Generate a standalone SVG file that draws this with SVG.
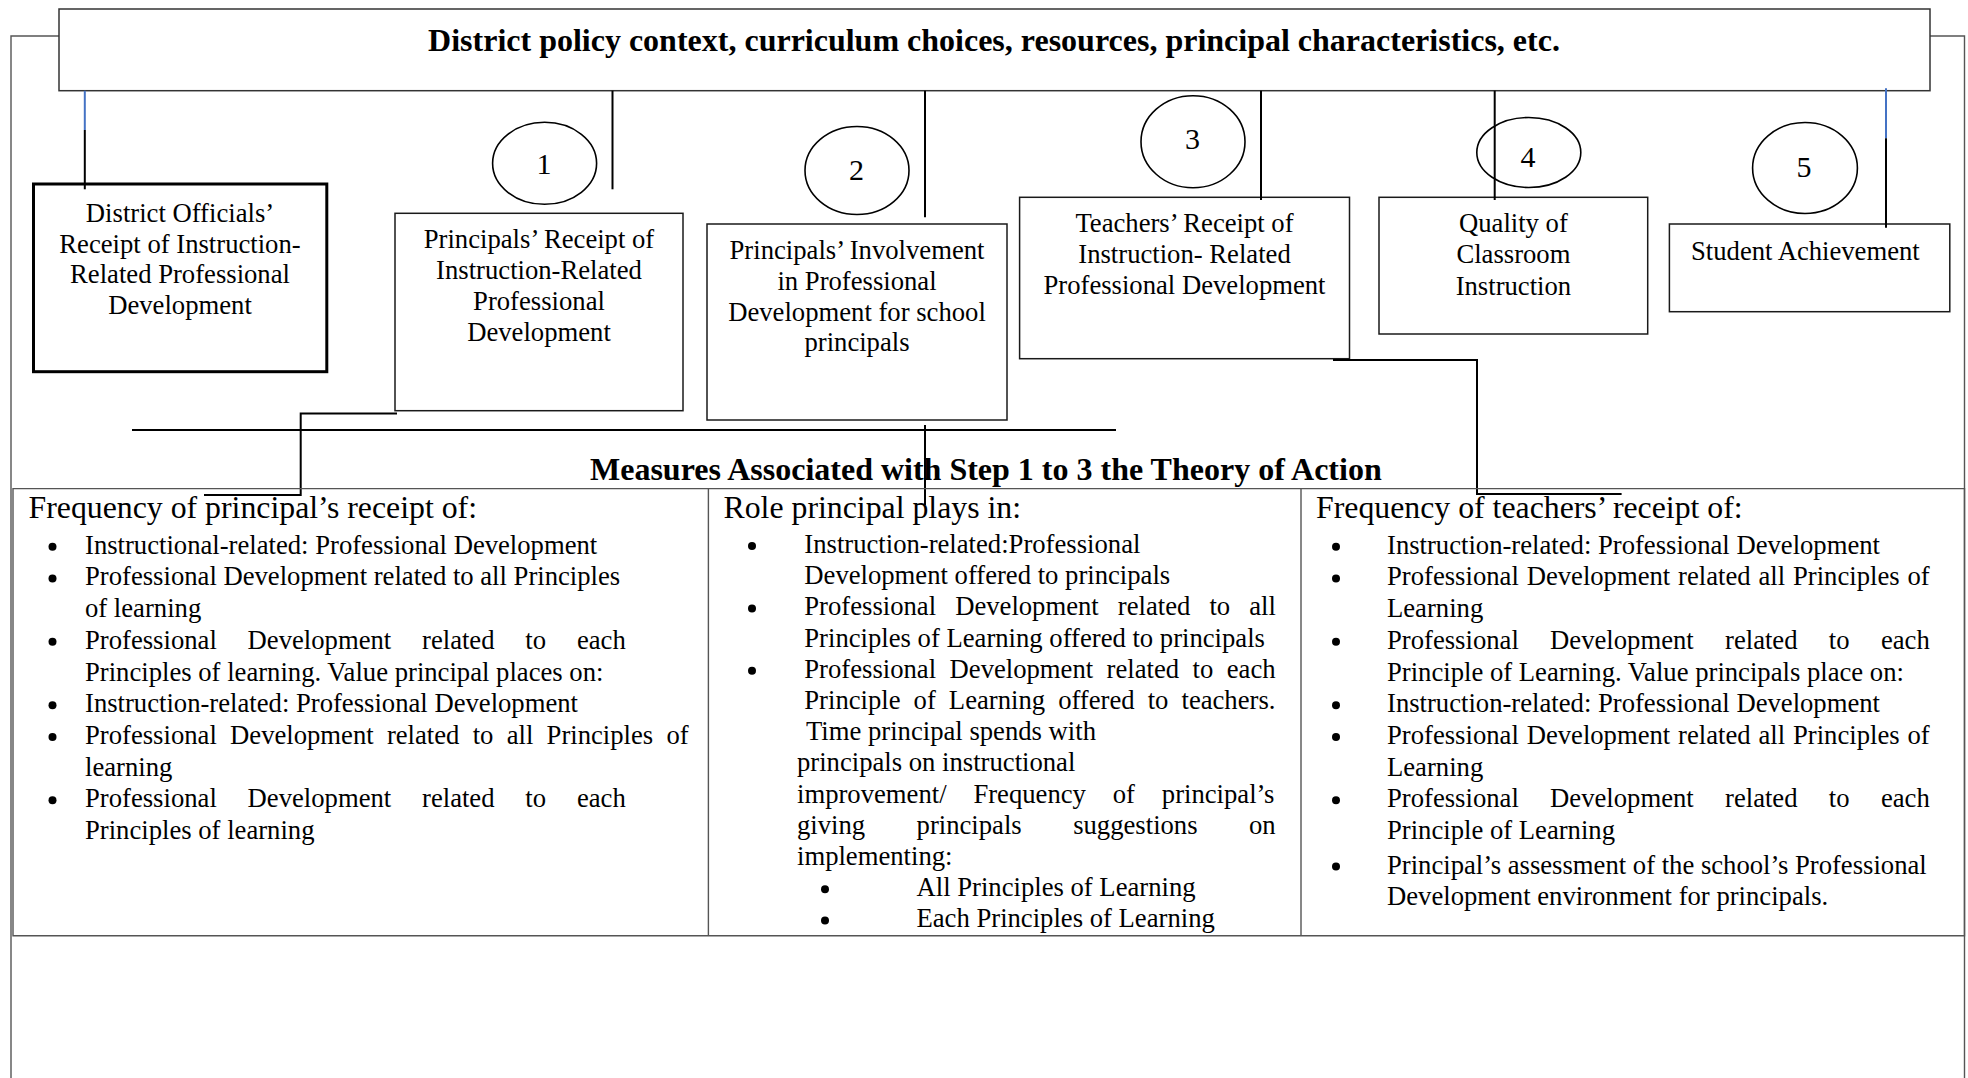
<svg xmlns="http://www.w3.org/2000/svg" width="1968" height="1078" viewBox="0 0 1968 1078">
<style>
text{font-family:"Liberation Serif","Times New Roman",serif;fill:#000}
.t{font-size:26.67px}
.c{text-anchor:middle}
.h{font-size:31.8px}
.b{font-size:32px;font-weight:bold}
.d{font-size:30px;text-anchor:middle}
.bx{fill:#fff;stroke:#1a1a1a;stroke-width:1.5}
.ln{fill:none;stroke:#000;stroke-width:2}
.bl{fill:none;stroke:#4472C4;stroke-width:2}
.tb{fill:none;stroke:#555;stroke-width:1.4}
.el{fill:none;stroke:#000;stroke-width:1.6}
.bu{fill:#000}
</style>
<rect width="1968" height="1078" fill="#fff"/>
<g id="frame">
<path class="tb" d="M11 1078 V36 H59 M1930 36 H1964.5 V1078"/>
</g>
<g id="header">
<rect class="bx" x="59" y="9" width="1871" height="81.7" style="stroke:#333"/>
<text class="b c" x="994" y="50.5">District policy context, curriculum choices, resources, principal characteristics, etc.</text>
</g>
<g id="district-officials">
<rect x="33.5" y="184" width="293.3" height="187.7" fill="#fff" stroke="#000" stroke-width="3"/>
<text class="t c" x="180" y="222">District Officials’</text>
<text class="t c" x="180" y="252.7">Receipt of Instruction-</text>
<text class="t c" x="180" y="283.4">Related Professional</text>
<text class="t c" x="180" y="314.1">Development</text>
</g>
<g id="step1">
<ellipse class="el" cx="544.6" cy="163.3" rx="52" ry="41"/>
<text class="d" x="544" y="173.5">1</text>
</g>
<g id="principals-receipt">
<rect class="bx" x="395" y="213.3" width="288" height="197.4"/>
<text class="t c" x="539" y="248.3">Principals’ Receipt of</text>
<text class="t c" x="539" y="279.2">Instruction-Related</text>
<text class="t c" x="539" y="310.1">Professional</text>
<text class="t c" x="539" y="341">Development</text>
</g>
<g id="step2">
<ellipse class="el" cx="857" cy="170.5" rx="52" ry="44"/>
<text class="d" x="856.5" y="180">2</text>
</g>
<g id="principals-involvement">
<rect class="bx" x="707" y="224" width="300" height="196"/>
<text class="t c" x="857" y="259.3">Principals’ Involvement</text>
<text class="t c" x="857" y="290">in Professional</text>
<text class="t c" x="857" y="320.7">Development for school</text>
<text class="t c" x="857" y="351.4">principals</text>
</g>
<g id="step3">
<ellipse class="el" cx="1193" cy="141.7" rx="52" ry="46"/>
<text class="d" x="1192.5" y="149">3</text>
</g>
<g id="teachers-receipt">
<rect class="bx" x="1019.6" y="197.3" width="329.9" height="161.4"/>
<text class="t c" x="1184.5" y="232">Teachers’ Receipt of</text>
<text class="t c" x="1184.5" y="263">Instruction- Related</text>
<text class="t c" x="1184.5" y="294">Professional Development</text>
</g>
<g id="step4">
<ellipse class="el" cx="1528.8" cy="152.5" rx="52" ry="35"/>
<text class="d" x="1528" y="166.5">4</text>
</g>
<g id="classroom-quality">
<rect class="bx" x="1379" y="197.3" width="268.7" height="136.7"/>
<text class="t c" x="1513.4" y="232">Quality of</text>
<text class="t c" x="1513.4" y="263.3">Classroom</text>
<text class="t c" x="1513.4" y="294.6">Instruction</text>
</g>
<g id="step5">
<ellipse class="el" cx="1805" cy="168" rx="52.4" ry="45.5"/>
<text class="d" x="1804" y="176.5">5</text>
</g>
<g id="student-achievement">
<rect class="bx" x="1669.4" y="224" width="280.4" height="87.7"/>
<text class="t" x="1691" y="260">Student Achievement</text>
</g>
<g id="connectors">
<path class="bl" d="M84.8 90.7 V130"/>
<path class="ln" d="M84.8 130 V189.3"/>
<path class="ln" d="M612.5 90.7 V189.3"/>
<path class="ln" d="M925 90.7 V217.3"/>
<path class="ln" d="M1261 90.7 V200"/>
<path class="ln" d="M1494.7 90.7 V200"/>
<path class="bl" d="M1886 88.3 V138.3"/>
<path class="ln" d="M1886 138.3 V227.7"/>
<path class="ln" d="M397 413.6 H300.7 V495 H204"/>
<path class="ln" d="M132 430 H1116"/>
<path class="ln" d="M925 425 V505"/>
<path class="ln" d="M1333 360 H1477 V494 H1621.6"/>
</g>
<g id="measures">
<text class="b" x="590" y="480">Measures Associated with Step 1 to 3 the Theory of Action</text>
<path class="tb" d="M13 488.6 H1964.5 V935.7 H13 Z M708.4 488.6 V935.7 M1301 488.6 V935.7"/>
</g>
<g id="measures-principal-receipt">
<text class="h" x="28.5" y="518">Frequency of principal’s receipt of:</text>
<g class="bu">
<circle cx="52.5" cy="546.7" r="4"/><circle cx="52.5" cy="578.4" r="4"/><circle cx="52.5" cy="641.8" r="4"/>
<circle cx="52.5" cy="705.2" r="4"/><circle cx="52.5" cy="736.9" r="4"/><circle cx="52.5" cy="800.3" r="4"/>
</g>
<g class="t">
<text x="85" y="553.7">Instructional-related: Professional Development</text>
<text x="85" y="585.4">Professional Development related to all Principles</text>
<text x="85" y="617.1">of learning</text>
<text x="85" y="648.8" word-spacing="24.15">Professional Development related to each</text>
<text x="85" y="680.5">Principles of learning. Value principal places on:</text>
<text x="85" y="712.2">Instruction-related: Professional Development</text>
<text x="85" y="743.9" word-spacing="6.6">Professional Development related to all Principles of</text>
<text x="85" y="775.6">learning</text>
<text x="85" y="807.3" word-spacing="24.15">Professional Development related to each</text>
<text x="85" y="839">Principles of learning</text>
</g>
</g>
<g id="measures-principal-role">
<text class="h" x="723.5" y="518">Role principal plays in:</text>
<g class="bu">
<circle cx="752" cy="546" r="4"/><circle cx="752" cy="608.4" r="4"/><circle cx="752" cy="670.8" r="4"/>
<circle cx="825" cy="889.2" r="4"/><circle cx="825" cy="920.4" r="4"/>
</g>
<g class="t">
<text x="804.3" y="553">Instruction-related:Professional</text>
<text x="804.3" y="584.2">Development offered to principals</text>
<text x="804.3" y="615.4" word-spacing="12.4">Professional Development related to all</text>
<text x="804.3" y="646.6">Principles of Learning offered to principals</text>
<text x="804.3" y="677.8" word-spacing="6.8">Professional Development related to each</text>
<text x="804.3" y="709" word-spacing="6.4">Principle of Learning offered to teachers.</text>
<text x="806" y="740.2">Time principal spends with</text>
<text x="797" y="771.4">principals on instructional</text>
<text x="797" y="802.6" word-spacing="20.2">improvement/ Frequency of principal’s</text>
<text x="797" y="833.8" word-spacing="44.8">giving principals suggestions on</text>
<text x="797" y="865">implementing:</text>
<text x="916.5" y="896.2">All Principles of Learning</text>
<text x="916.5" y="927.4">Each Principles of Learning</text>
</g>
</g>
<g id="measures-teacher-receipt">
<text class="h" x="1316" y="518">Frequency of teachers’ receipt of:</text>
<g class="bu">
<circle cx="1336" cy="546.7" r="4"/><circle cx="1336" cy="578.4" r="4"/><circle cx="1336" cy="641.8" r="4"/>
<circle cx="1336" cy="705.2" r="4"/><circle cx="1336" cy="736.9" r="4"/><circle cx="1336" cy="800.3" r="4"/>
<circle cx="1336" cy="866.5" r="4"/>
</g>
<g class="t">
<text x="1387" y="553.7">Instruction-related: Professional Development</text>
<text x="1387" y="585.4" word-spacing="1.2">Professional Development related all Principles of</text>
<text x="1387" y="617.1">Learning</text>
<text x="1387" y="648.8" word-spacing="24.65">Professional Development related to each</text>
<text x="1387" y="680.5">Principle of Learning. Value principals place on:</text>
<text x="1387" y="712.2">Instruction-related: Professional Development</text>
<text x="1387" y="743.9" word-spacing="1.2">Professional Development related all Principles of</text>
<text x="1387" y="775.6">Learning</text>
<text x="1387" y="807.3" word-spacing="24.65">Professional Development related to each</text>
<text x="1387" y="839">Principle of Learning</text>
<text x="1387" y="873.5">Principal’s assessment of the school’s Professional</text>
<text x="1387" y="905">Development environment for principals.</text>
</g>
</g>
</svg>
